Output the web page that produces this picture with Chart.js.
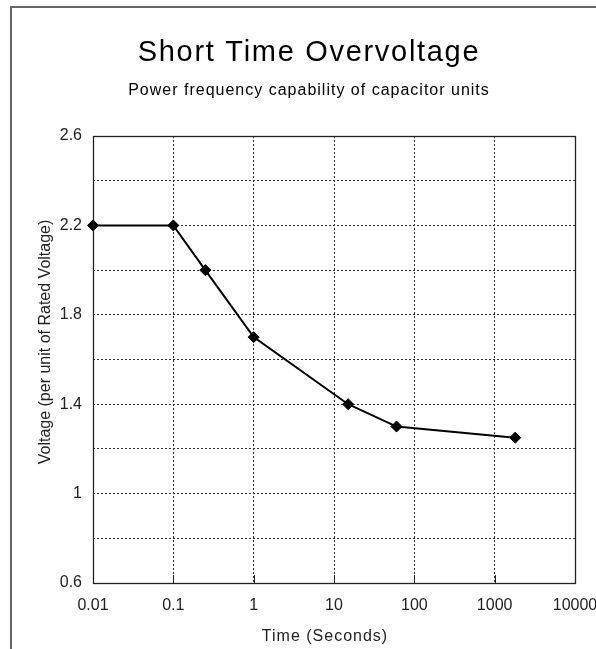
<!DOCTYPE html>
<html>
<head>
<meta charset="utf-8">
<script src="https://cdn.jsdelivr.net/npm/chart.js@4/dist/chart.umd.min.js"></script>
<style>
  html, body { margin: 0; padding: 0; background: #fff; }
</style>
</head>
<body>
<canvas id="chart" width="596" height="649"></canvas>
<script>
// data
const times = [0.01, 0.1, 0.25, 1, 15, 60, 1800];
const voltages = [2.2, 2.2, 2.0, 1.7, 1.4, 1.3, 1.25];
const xTicks = [0.01, 0.1, 1, 10, 100, 1000, 10000];
const xTickLabels = ["0.01", "0.1", "1", "10", "100", "1000", "10000"];
const yTicks = [0.6, 0.8, 1, 1.2, 1.4, 1.6, 1.8, 2, 2.2, 2.4, 2.6];
const yTickLabels = ["0.6", "", "1", "", "1.4", "", "1.8", "", "2.2", "", "2.6"];
const titleText = "Short Time Overvoltage";
const subtitleText = "Power frequency capability of capacitor units";
const xTitle = "Time (Seconds)";
const yTitle = "Voltage (per unit of Rated Voltage)";

const FONT = "'Liberation Sans', Arial, sans-serif";

const extras = {
  id: "extras",
  beforeDraw(chart) {
    const ctx = chart.ctx;
    ctx.save();
    ctx.fillStyle = "#fff";
    ctx.fillRect(0, 0, chart.width, chart.height);
    ctx.restore();
  },
  afterDraw(chart) {
    const ctx = chart.ctx;
    const a = chart.chartArea;
    const xs = chart.scales.x;
    ctx.save();

    // outer frame (left + top only visible)
    ctx.strokeStyle = "#666";
    ctx.lineWidth = 2;
    ctx.beginPath();
    ctx.moveTo(11, chart.height);
    ctx.lineTo(11, 7);
    ctx.lineTo(chart.width, 7);
    ctx.stroke();

    // plot border
    ctx.strokeStyle = "#222";
    ctx.lineWidth = 1.3;
    ctx.strokeRect(a.left + 0.5, a.top + 0.5, a.right - a.left, a.bottom - a.top);

    // inner ticks on x axis
    ctx.lineWidth = 1;
    ctx.beginPath();
    xTicks.slice(1, -1).forEach(v => {
      const px = Math.round(xs.getPixelForValue(v)) + 0.5;
      ctx.moveTo(px, a.bottom);
      ctx.lineTo(px, a.bottom - 8);
    });
    ctx.stroke();

    // titles
    ctx.fillStyle = "#000";
    ctx.textAlign = "center";
    ctx.textBaseline = "alphabetic";
    ctx.font = "29px " + FONT;
    ctx.letterSpacing = "1.7px";
    ctx.fillText(titleText, 309, 61);
    ctx.font = "16px " + FONT;
    ctx.letterSpacing = "1px";
    ctx.fillText(subtitleText, 309, 95);

    // axis titles
    ctx.fillStyle = "#222";
    ctx.fillText(xTitle, 325, 641);
    ctx.letterSpacing = "0px";
    ctx.translate(50, 342);
    ctx.rotate(-Math.PI / 2);
    ctx.fillText(yTitle, 0, 0);
    ctx.restore();
  }
};

new Chart("chart", {
  type: "line",
  data: {
    datasets: [
      {
        data: times.map((t, i) => ({ x: t, y: voltages[i] })),
        borderColor: "#000",
        borderWidth: 2,
        backgroundColor: "#000",
        pointStyle: "rectRot",
        pointRadius: 5.5,
        pointBackgroundColor: "#000",
        pointBorderColor: "#000",
        pointBorderWidth: 1,
        tension: 0,
        clip: false,
      },
    ],
  },
  options: {
    responsive: false,
    animation: false,
    layout: { padding: { top: 136, right: 21, bottom: 0, left: 0 } },
    plugins: {
      legend: { display: false },
      tooltip: { enabled: false },
    },
    scales: {
      x: {
        type: "logarithmic",
        min: 0.01,
        max: 10000,
        afterBuildTicks: (s) => {
          s.ticks = xTicks.map((v) => ({ value: v }));
        },
        afterFit: (s) => {
          s.height = 66;
          s.paddingLeft = 0;
          s.paddingRight = 0;
        },
        ticks: {
          autoSkip: false,
          maxRotation: 0,
          padding: 13,
          color: "#222",
          font: { family: FONT, size: 16 },
          callback: (v) => {
            const i = xTicks.indexOf(v);
            return i >= 0 ? xTickLabels[i] : "";
          },
        },
        grid: { color: "#333", lineWidth: 1, drawTicks: false },
        border: { display: false, dash: [2, 2] },
      },
      y: {
        min: 0.6,
        max: 2.6,
        afterBuildTicks: (s) => {
          s.ticks = yTicks.map((v) => ({ value: v }));
        },
        afterFit: (s) => {
          s.width = 93;
          s.paddingTop = 0;
          s.paddingBottom = 0;
        },
        ticks: {
          autoSkip: false,
          padding: 11,
          color: "#222",
          font: { family: FONT, size: 16 },
          callback: (v, i) => yTickLabels[i],
        },
        grid: { color: "#333", lineWidth: 1, drawTicks: false },
        border: { display: false, dash: [2, 2] },
      },
    },
  },
  plugins: [extras],
});
</script>
</body>
</html>
